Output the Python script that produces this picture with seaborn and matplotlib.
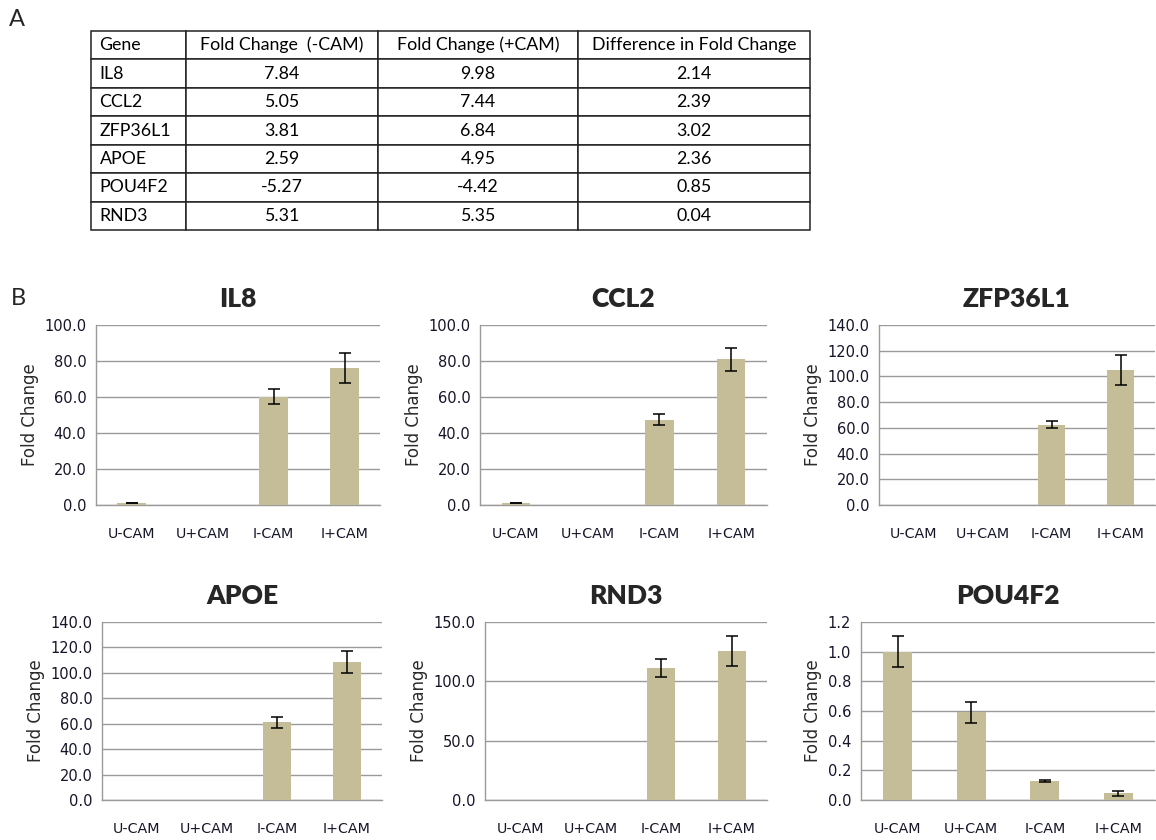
import matplotlib
matplotlib.use('Agg')
import matplotlib.pyplot as plt
import seaborn as sns
import pandas as pd

# ── Table data (panel A) ─────────────────────────────────────
table_header = ['Gene', 'Fold Change  (-CAM)', 'Fold Change (+CAM)', 'Difference in Fold Change']
table_genes  = ['IL8', 'CCL2', 'ZFP36L1', 'APOE', 'POU4F2', 'RND3']
fc_minus_cam = ['7.84', '5.05', '3.81', '2.59', '-5.27', '5.31']
fc_plus_cam  = ['9.98', '7.44', '6.84', '4.95', '-4.42', '5.35']
fc_diff      = ['2.14', '2.39', '3.02', '2.36', '0.85', '0.04']

# ── Bar data (panel B) ───────────────────────────────────────
conditions = ['U-CAM', 'U+CAM', 'I-CAM', 'I+CAM']
il8_vals     = [1.0, 0.2, 60.2, 75.9]
il8_err      = [0.1, 0.0, 4.1, 8.3]
ccl2_vals    = [1.0, 0.2, 47.4, 81.0]
ccl2_err     = [0.1, 0.0, 2.9, 6.4]
zfp36l1_vals = [0.3, 0.2, 62.5, 105.0]
zfp36l1_err  = [0.0, 0.0, 2.7, 11.8]
apoe_vals    = [0.3, 0.2, 61.0, 108.6]
apoe_err     = [0.0, 0.0, 4.4, 8.7]
rnd3_vals    = [0.3, 0.2, 111.6, 125.6]
rnd3_err     = [0.0, 0.0, 7.6, 12.7]
pou4f2_vals  = [1.0, 0.59, 0.128, 0.045]
pou4f2_err   = [0.105, 0.07, 0.01, 0.016]

BAR_COLOR = '#C4BD97'
GRID_COLOR = '#9a9a9a'
TEXT_COLOR = '#15152a'
W, H = 1156, 840

sns.set_style('white')
plt.rcParams['font.family'] = ['DejaVu Sans']

fig = plt.figure(figsize=(W / 100, H / 100), dpi=100)


def px_rect(l, t, r, b):
    return [l / W, 1 - b / H, (r - l) / W, (b - t) / H]


# ── Panel A: table ───────────────────────────────────────────
fig.text(9 / W, 1 - 20 / H, 'A', fontsize=17, va='center', family='Lato')
tax = fig.add_axes(px_rect(91, 31, 810, 230))
tax.axis('off')
cells = [[g, a, b, d] for g, a, b, d in zip(table_genes, fc_minus_cam, fc_plus_cam, fc_diff)]
tbl = tax.table(cellText=[table_header] + cells, bbox=[0, 0, 1, 1],
                colWidths=[95, 192, 200, 232], cellLoc='center')
tbl.auto_set_font_size(False)
for (r, c), cell in tbl.get_celld().items():
    cell.set_edgecolor('#222222')
    cell.set_linewidth(1.1)
    txt = cell.get_text()
    txt.set_fontsize(12.8)
    txt.set_family('Lato')
    txt.set_color('black')
    if c == 0:
        txt.set_ha('left')
        cell.PAD = 0.09

# ── Panel B: bar charts ──────────────────────────────────────
fig.text(11 / W, 1 - 298 / H, 'B', fontsize=17, va='center', family='Lato')

panels = [
    ('IL8',     il8_vals,     il8_err,     (96, 325, 380, 505),   100, 20),
    ('CCL2',    ccl2_vals,    ccl2_err,    (480, 325, 767, 505),  100, 20),
    ('ZFP36L1', zfp36l1_vals, zfp36l1_err, (879, 325, 1155, 505), 140, 20),
    ('APOE',    apoe_vals,    apoe_err,    (102, 622, 382, 800),  140, 20),
    ('RND3',    rnd3_vals,    rnd3_err,    (485, 622, 767, 800),  150, 50),
    ('POU4F2',  pou4f2_vals,  pou4f2_err,  (861, 622, 1155, 800), 1.2, 0.2),
]

for name, vals, errs, rect, ymax, ystep in panels:
    ax = fig.add_axes(px_rect(*rect))
    df = pd.DataFrame({'condition': conditions, 'fold': vals})
    sns.barplot(data=df, x='condition', y='fold', order=conditions, color=BAR_COLOR,
                saturation=1, width=0.4, errorbar=None, linewidth=0, ax=ax, zorder=3)

    # only draw the error bars that show up in the reference
    idx = [i for i, e in enumerate(errs) if e > 0]
    ax.errorbar(idx, [vals[i] for i in idx], yerr=[errs[i] for i in idx], fmt='none',
                ecolor='black', elinewidth=1.1, capsize=4, capthick=1.1, zorder=4)

    n = int(round(ymax / ystep))
    yticks = [i * ystep for i in range(n + 1)]
    ax.set_ylim(0, ymax)
    ax.set_yticks(yticks)
    ax.set_yticklabels([f'{t:.1f}' for t in yticks], fontsize=10.5, color=TEXT_COLOR)
    ax.yaxis.grid(True, color=GRID_COLOR, linewidth=1.0, zorder=0)
    ax.set_axisbelow(True)

    ax.set_xlim(-0.5, len(conditions) - 0.5)
    ax.set_xticks([i - 0.5 for i in range(len(conditions) + 1)])
    ax.set_xticklabels([])
    ax.set_xticks(range(len(conditions)), minor=True)
    ax.set_xticklabels(conditions, minor=True, fontsize=10.3, color=TEXT_COLOR)
    ax.tick_params(axis='x', which='major', length=5, width=1, color=GRID_COLOR, direction='out')
    ax.tick_params(axis='x', which='minor', length=0, pad=16)
    ax.tick_params(axis='y', length=4, width=1, color=GRID_COLOR, direction='out', pad=3)

    for s in ['top', 'right']:
        ax.spines[s].set_visible(False)
    for s in ['left', 'bottom']:
        ax.spines[s].set_color(GRID_COLOR)
        ax.spines[s].set_linewidth(1.0)

    ax.set_xlabel('')
    ax.set_ylabel('Fold Change', fontsize=12, color='#2a2a2a', labelpad=4)
    ax.set_title(name, fontsize=19, fontweight='heavy', family='Lato', pad=13)

plt.savefig('out.png', dpi=100)
plt.close()
